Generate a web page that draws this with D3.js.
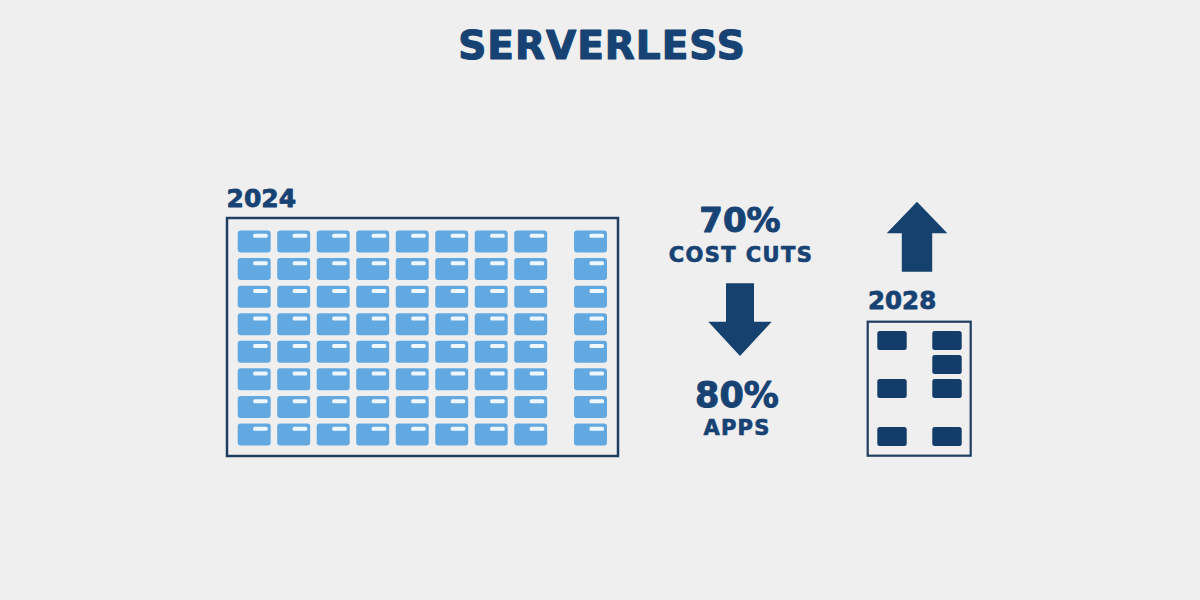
<!DOCTYPE html>
<html>
<head>
<meta charset="utf-8">
<script src="https://cdn.jsdelivr.net/npm/d3@7"></script>
<style>
  html, body { margin: 0; padding: 0; background: #efefef; }
  svg { display: block; }
  text { font-family: "DejaVu Sans", sans-serif; font-weight: bold; fill: #174374; stroke: #174374; stroke-linejoin: round; }
</style>
</head>
<body>
<div id="chart"></div>
<script>
// data
const title = "SERVERLESS";
const years = ["2024", "2028"];
const rows2024 = ["r1", "r2", "r3", "r4", "r5", "r6", "r7", "r8"];
const cols2024 = ["c1", "c2", "c3", "c4", "c5", "c6", "c7", "c8"];
const spareCol2024 = ["c9"];
const statValues = ["70%", "80%"];
const statLabels = ["COST CUTS", "APPS"];
const cols2028 = ["left", "right"];
const rows2028 = ["s1", "s2", "s3", "s4", "s5"];
const blocks2028 = [
    { col: "left", row: "s1" },
    { col: "right", row: "s1" },
    { col: "right", row: "s2" },
    { col: "left", row: "s3" },
    { col: "right", row: "s3" },
    { col: "left", row: "s5" },
    { col: "right", row: "s5" }
];

const width = 1200, height = 600;
const arrowNavy = "#15416e", blockNavy = "#123d6a";
const boxStroke = "#1f3d60", cellBlue = "#63a9e1";

const svg = d3.select("#chart").append("svg")
    .attr("width", width)
    .attr("height", height);

svg.append("rect").attr("width", width).attr("height", height).attr("fill", "#efefef");

// title
svg.append("text")
    .attr("x", 602).attr("y", 59)
    .attr("text-anchor", "middle")
    .style("font-size", "39px")
    .style("letter-spacing", "1px")
    .style("stroke-width", "1.2px")
    .text(title);

// 2024 panel
const box1 = { x: 227, y: 218, w: 391, h: 238 };
svg.append("text")
    .attr("x", 226.5).attr("y", 206.5)
    .style("font-size", "25px")
    .style("stroke-width", "0.8px")
    .text(years[0]);

svg.append("rect")
    .attr("x", box1.x).attr("y", box1.y)
    .attr("width", box1.w).attr("height", box1.h)
    .attr("fill", "none")
    .attr("stroke", boxStroke)
    .attr("stroke-width", 2.5);

const x1 = d3.scaleBand()
    .domain(cols2024)
    .range([237.7, 547.2])
    .paddingInner(0.165);

const cellW = x1.bandwidth();
// the spare column sits against the right inner edge of the box
const xSpare = d3.scaleBand()
    .domain(spareCol2024)
    .range([box1.x + box1.w - 11 - cellW, box1.x + box1.w - 11]);

const y1 = d3.scaleBand()
    .domain(rows2024)
    .range([230.5, 445.5])
    .paddingInner(0.2);

const cells = [];
rows2024.forEach(r => {
    cols2024.forEach(c => cells.push({ row: r, x: x1(c) }));
    spareCol2024.forEach(c => cells.push({ row: r, x: xSpare(c) }));
});

const cellG = svg.append("g").selectAll("g")
    .data(cells)
    .join("g")
    .attr("transform", d => `translate(${d.x},${y1(d.row)})`);

cellG.append("rect")
    .attr("width", cellW)
    .attr("height", y1.bandwidth())
    .attr("rx", 3)
    .attr("fill", cellBlue);

cellG.append("rect")
    .attr("x", cellW - 17.5)
    .attr("y", 3.3)
    .attr("width", 14.5)
    .attr("height", 4)
    .attr("rx", 1.5)
    .attr("fill", "#ffffff")
    .attr("opacity", 0.9);

// stats column
const statX = 740;
svg.append("text")
    .attr("x", statX).attr("y", 232.3)
    .attr("text-anchor", "middle")
    .style("font-size", "34px")
    .style("stroke-width", "1px")
    .text(statValues[0]);
svg.append("text")
    .attr("x", statX + 1).attr("y", 261.7)
    .attr("text-anchor", "middle")
    .style("font-size", "21px")
    .style("letter-spacing", "1.4px")
    .style("stroke-width", "0.7px")
    .text(statLabels[0]);

// down arrow
const down = d3.path();
down.moveTo(statX - 14, 283.3);
down.lineTo(statX + 14, 283.3);
down.lineTo(statX + 14, 321.7);
down.lineTo(statX + 31.7, 321.7);
down.lineTo(statX, 356);
down.lineTo(statX - 31.7, 321.7);
down.lineTo(statX - 14, 321.7);
down.closePath();
svg.append("path").attr("d", down.toString()).attr("fill", arrowNavy);

svg.append("text")
    .attr("x", statX - 3).attr("y", 406.7)
    .attr("text-anchor", "middle")
    .style("font-size", "35px")
    .style("stroke-width", "1px")
    .text(statValues[1]);
svg.append("text")
    .attr("x", statX - 3).attr("y", 435)
    .attr("text-anchor", "middle")
    .style("font-size", "21px")
    .style("letter-spacing", "1.2px")
    .style("stroke-width", "0.7px")
    .text(statLabels[1]);

// up arrow
const upX = 917;
const up = d3.path();
up.moveTo(upX, 201.7);
up.lineTo(upX + 30.3, 233.3);
up.lineTo(upX + 15.2, 233.3);
up.lineTo(upX + 15.2, 271.7);
up.lineTo(upX - 15.2, 271.7);
up.lineTo(upX - 15.2, 233.3);
up.lineTo(upX - 30.3, 233.3);
up.closePath();
svg.append("path").attr("d", up.toString()).attr("fill", arrowNavy);

// 2028 panel
svg.append("text")
    .attr("x", 868).attr("y", 309.3)
    .style("font-size", "24.5px")
    .style("stroke-width", "0.8px")
    .text(years[1]);

svg.append("rect")
    .attr("x", 867.7).attr("y", 321.7)
    .attr("width", 103).attr("height", 134)
    .attr("fill", "none")
    .attr("stroke", boxStroke)
    .attr("stroke-width", 2.2);

const x2 = d3.scaleBand()
    .domain(cols2028)
    .range([877.3, 961.7])
    .paddingInner(0.465);

const y2 = d3.scaleBand()
    .domain(rows2028)
    .range([331, 446])
    .paddingInner(0.208);

svg.append("g").selectAll("rect")
    .data(blocks2028)
    .join("rect")
    .attr("x", d => x2(d.col))
    .attr("y", d => y2(d.row))
    .attr("width", x2.bandwidth())
    .attr("height", y2.bandwidth())
    .attr("rx", 2.5)
    .attr("fill", blockNavy);
</script>
</body>
</html>
